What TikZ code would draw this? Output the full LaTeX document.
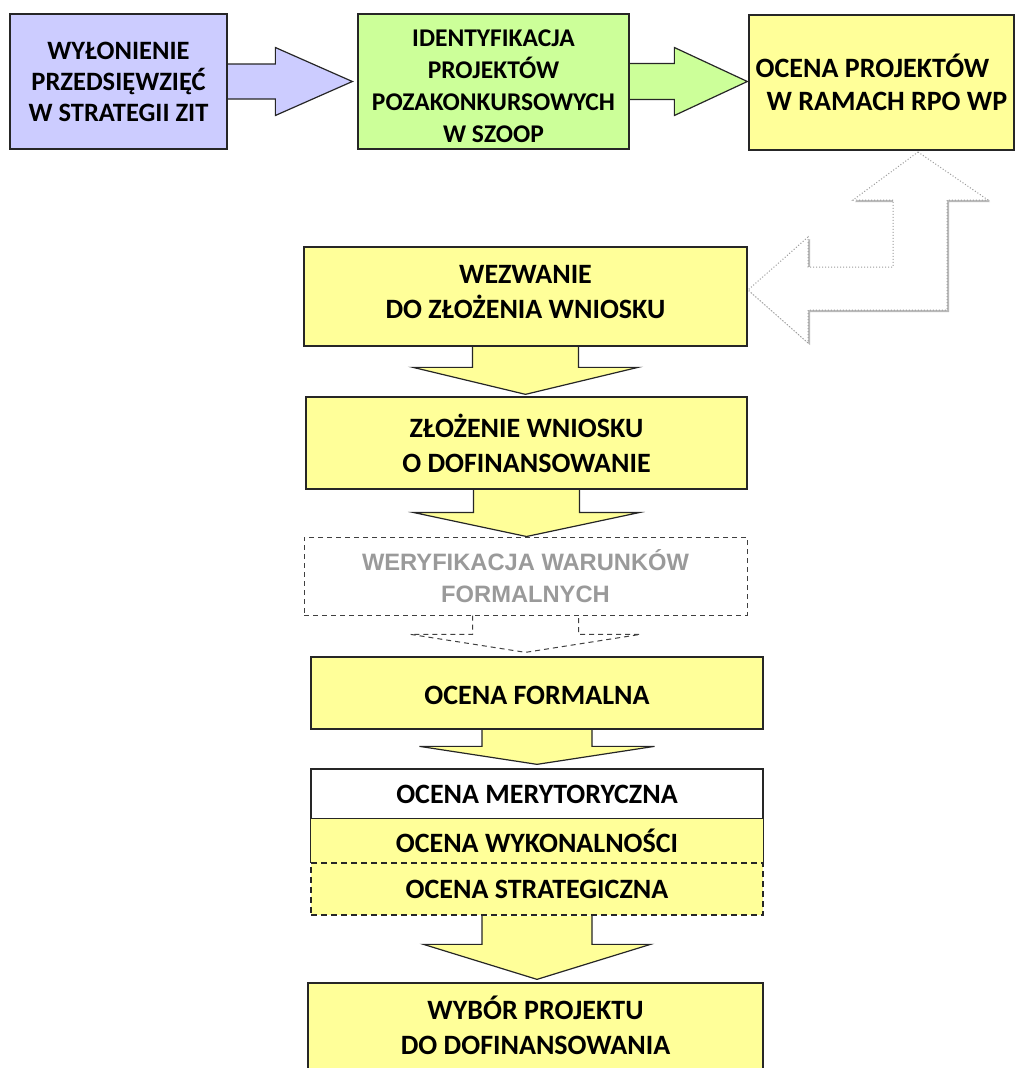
\documentclass[tikz,border=0pt]{standalone}
\usepackage{fontspec}
\setmainfont{Carlito}
\newfontfamily\arialb{Liberation Sans}
\usetikzlibrary{calc}
\definecolor{purp}{HTML}{CCCCFF}
\definecolor{grn}{HTML}{CCFF99}
\definecolor{yel}{HTML}{FFFF99}
\definecolor{fbgray}{HTML}{9A9A9A}
\pgfdeclarelayer{bg}
\pgfsetlayers{bg,main}
\newcommand{\vblk}[7]{%
  \draw[#1] let \p1=(#2.south), \p2=(#3.north) in
    (\x1-#4pt,\y1) -- (\x1-#4pt,\y2+#6pt+#7pt) -- (\x1-#5pt,\y2+#6pt+#7pt) -- (\x1,\y2+#7pt)
    -- (\x1+#5pt,\y2+#6pt+#7pt) -- (\x1+#4pt,\y2+#6pt+#7pt) -- (\x1+#4pt,\y1);}
\newcommand{\hblk}[7]{%
  \draw[#1] let \p1=(#2.east), \p2=(#3.west) in
    (\x1,\y1+#4pt) -- (\x2-#6pt-#7pt,\y1+#4pt) -- (\x2-#6pt-#7pt,\y1+#5pt) -- (\x2-#7pt,\y1)
    -- (\x2-#6pt-#7pt,\y1-#5pt) -- (\x2-#6pt-#7pt,\y1-#4pt) -- (\x1,\y1-#4pt);}
\begin{document}
\begin{tikzpicture}[x=1pt,y=-1pt,
  box/.style={draw=black!85, line width=1.3pt, align=center, inner sep=0pt,
    font=\fontsize{28}{35}\selectfont\bfseries},
  txt/.style={align=center, inner sep=0pt, font=\fontsize{28}{35}\selectfont\bfseries},
  dsh/.style={dash pattern=on 6pt off 4pt},
  blk/.style={draw=black!85, line width=1.2pt, line join=miter, fill=yel},
  dblk/.style={draw=black!75, line width=1pt, dash pattern=on 5pt off 4pt, fill=white}]
\useasboundingbox (0,0) rectangle (1018,1068);
% top row
\node[box, fill=purp, minimum width=217, minimum height=135,
  font=\fontsize{26.5}{31}\selectfont\bfseries] (b1) at (118.5,81.5)
  {WYŁONIENIE\\PRZEDSIĘWZIĘĆ\\W STRATEGII ZIT};
\node[box, fill=grn, minimum width=271, minimum height=135] (b2) at (493.5,81.5) {};
\node[txt, font=\fontsize{25.5}{32}\selectfont\bfseries] (b2t) at (493.5,86)
  {IDENTYFIKACJA\\PROJEKTÓW\\POZAKONKURSOWYCH\\W SZOOP};
\node[box, fill=yel, minimum width=265, minimum height=135, align=left,
  font=\fontsize{28}{33}\selectfont\bfseries] (b3) at (881.5,82.5)
  {\hspace*{0pt}OCENA PROJEKTÓW\\\hspace*{11pt}W RAMACH RPO WP};
% column
\node[box, fill=yel, minimum width=443, minimum height=99] (wez) at (525.5,296.5) {};
\node[txt] (wezt) at (525.5,292.5) {WEZWANIE\\DO ZŁOŻENIA WNIOSKU};
\node[box, fill=yel, minimum width=441, minimum height=92] (zlo) at (526.5,443)
  {ZŁOŻENIE WNIOSKU\\O DOFINANSOWANIE};
\node[box, draw=black!75, line width=1pt, dblk, minimum width=443, minimum height=78,
  text=fbgray, font=\fontsize{23.7}{32}\selectfont\arialb\bfseries] (wer) at (525.5,576)
  {WERYFIKACJA WARUNKÓW\\FORMALNYCH};
\node[box, fill=yel, minimum width=452, minimum height=72] (of) at (537,693) {};
\node[txt] (oft) at (537,695) {OCENA FORMALNA};
\node[box, fill=white, minimum width=452, minimum height=50] (mer) at (537,794) {OCENA MERYTORYCZNA};
\node[txt, fill=yel, minimum width=452, minimum height=44] (wyk) at (537,841) {OCENA WYKONALNOŚCI};
\draw[black!85, line width=1.3pt] (wyk.north west) -- (wyk.south west)
  (wyk.north east) -- (wyk.south east);
\node[box, fill=yel, dsh, line width=1.1pt, minimum width=452, minimum height=52] (str) at (537,889) {OCENA STRATEGICZNA};
\node[box, fill=yel, minimum width=455, minimum height=100] (wyb) at (535.5,1033) {};
\node[txt] (wybt) at (535.5,1025.5) {WYBÓR PROJEKTU\\DO DOFINANSOWANIA};
% arrows
\begin{pgfonlayer}{bg}
\hblk{blk, fill=purp}{b1}{b2}{17.5}{34}{77}{5}
\hblk{blk, fill=grn}{b2}{b3}{18}{34}{73}{1}
\vblk{blk}{wez}{zlo}{53}{112.5}{27}{2}
\vblk{blk}{zlo}{wer}{53}{113}{24}{0}
\vblk{dblk}{wer}{of}{53}{115}{18}{4}
\vblk{blk}{of}{mer}{55}{117.5}{18}{4}
\vblk{blk}{str}{wyb}{55}{113.5}{35}{3}
% feedback arrow shadow
\fill[black!28, xshift=2pt, yshift=-2pt]
  (918,152) -- (988,200) -- (947,200) -- (947,310) -- (808,310) -- (808,343)
  -- (748,290) -- (808,237) -- (808,267) -- (893,267) -- (893,200) -- (853,200) -- cycle;
\end{pgfonlayer}
\draw[fbgray, dotted, line width=1pt, fill=white] (918,152) -- (988,200) -- (947,200) -- (947,310) -- (808,310) -- (808,343)
  -- (748,290) -- (808,237) -- (808,267) -- (893,267) -- (893,200) -- (853,200) -- cycle;
\end{tikzpicture}
\end{document}
